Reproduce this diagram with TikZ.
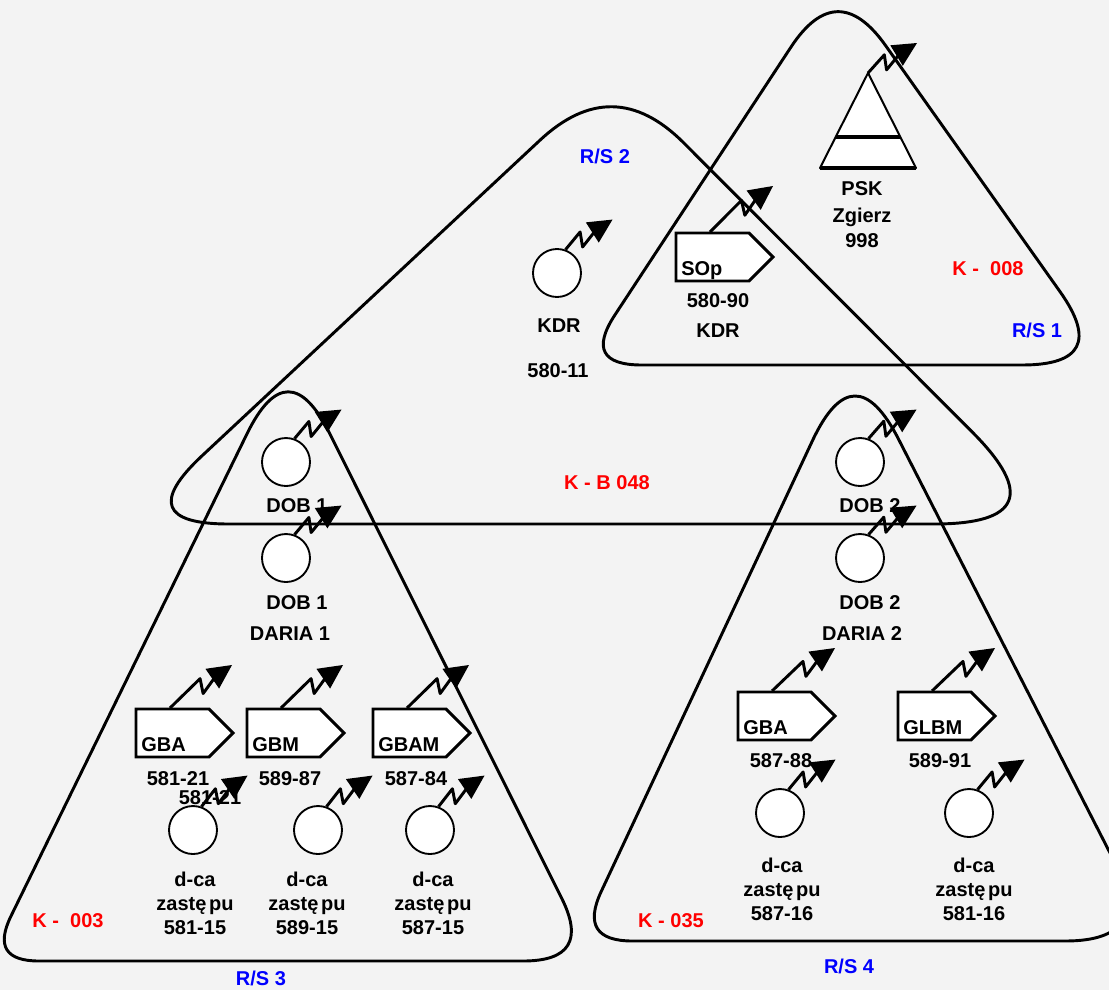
\documentclass[tikz,border=0pt]{standalone}
\usepackage{fontspec}
\setmainfont{Liberation Sans}
\usetikzlibrary{calc}
\definecolor{bg}{HTML}{F3F3F3}
\definecolor{rsblue}{HTML}{0000FF}
\definecolor{kred}{HTML}{FF0000}

% rounded triangle: #1 prefix, #2 apex, #3 left, #4 right, #5-#7 corner cut lengths
\newcommand{\roundtri}[7]{%
  \coordinate (#1a1) at ($(#2)!#5!(#3)$);
  \coordinate (#1a2) at ($(#2)!#5!(#4)$);
  \coordinate (#1b1) at ($(#3)!#6!(#2)$);
  \coordinate (#1b2) at ($(#3)!#6!(#4)$);
  \coordinate (#1c1) at ($(#4)!#7!(#3)$);
  \coordinate (#1c2) at ($(#4)!#7!(#2)$);
  \draw[outline] (#1a1) -- (#1b1)
    .. controls ($(#1b1)!0.667!(#3)$) and ($(#1b2)!0.667!(#3)$) .. (#1b2)
    -- (#1c1)
    .. controls ($(#1c1)!0.667!(#4)$) and ($(#1c2)!0.667!(#4)$) .. (#1c2)
    -- (#1a2)
    .. controls ($(#1a2)!0.667!(#2)$) and ($(#1a1)!0.667!(#2)$) .. (#1a1) -- cycle;
}

% radio symbol: #1 start coordinate, #2 offset of tip
\newcommand{\radio}[2]{%
  \coordinate (rtip) at ($(#1)+(#2)$);
  \draw[radioline] (#1) -- ($(rtip)!25.5pt!(#1)!5.25pt!-90:(#1)$)
    -- ($(rtip)!30pt!(#1)!5.25pt!90:(#1)$) -- ($(rtip)!15pt!(#1)$);
  \fill ($(rtip)!18pt!(#1)!9pt!90:(#1)$) -- (rtip)
    -- ($(rtip)!18pt!(#1)!9pt!-90:(#1)$) -- cycle;
}

% vehicle box: #1 name, #2 top-left, #3 text
\newcommand{\vehicle}[3]{%
  \coordinate (#1) at (#2);
  \draw[vehline] (#1) -- ++(73,0) -- ++(24,24) -- ++(-24,24) -- ++(-73,0) -- cycle;
  \node[vtext] (#1t) at ($(#1)+(5,42)$) {#3};
  \coordinate (#1r) at ($(#1)+(34,-1)$);
}

% d-ca label block: #1 name, #2 x, #3 first baseline, #4 number
\newcommand{\dcablock}[4]{%
  \node[lbl] (#1l1) at (#2,#3) {d-ca};
  \node[lbl] (#1l2) at (#2,#3+24) {zastę\kern2pt pu};
  \node[lbl] (#1l3) at (#2,#3+48) {#4};
}

\begin{document}
\begin{tikzpicture}[x=0.75pt,y=-0.75pt,
  outline/.style={line width=2.2pt, line join=round, line cap=round},
  dev/.style={circle, draw, fill=white, line width=1.4pt, minimum size=36pt, inner sep=0pt},
  vehline/.style={draw, fill=white, line width=2.2pt, line join=miter},
  radioline/.style={line width=2.2pt, line join=round},
  lbl/.style={font=\bfseries\fontsize{15}{18}\selectfont, inner sep=0pt, anchor=base},
  vtext/.style={font=\bfseries\fontsize{15}{18}\selectfont, inner sep=0pt, anchor=base west},
  klbl/.style={lbl, text=kred},
  rslbl/.style={lbl, text=rsblue}]

\useasboundingbox (0,0) rectangle (1109,990);
\fill[bg] (0,0) rectangle (1109,990);
\clip (0,0) rectangle (1109,990);

% group outlines
\roundtri{kb}{613,72}{129,524}{1064,524}{75pt}{75pt}{97.5pt}
\roundtri{ks}{837,-23}{582,365}{1112,365}{63pt}{45pt}{67.5pt}
\roundtri{kt}{288,350}{-11,961}{593,961}{70pt}{37.5pt}{52.5pt}
\roundtri{kf}{854,352}{578,941}{1155,941}{73.5pt}{41pt}{67.5pt}

% PSK symbol
\coordinate (pskL) at (820,168);
\coordinate (pskT) at (868,73);
\coordinate (pskR) at (916,168);
\draw[fill=white, line width=1.5pt, line join=round] (pskL) -- (pskT) -- (pskR) -- cycle;
\draw[line width=3pt] (pskL) -- (pskR);
\draw[line width=3pt] ($(pskL)!0.33!(pskT)$) -- ($(pskR)!0.33!(pskT)$);

% devices
\node[dev] (kdr) at (557,273) {};
\node[dev] (dob1a) at (286,462) {};
\node[dev] (dob1b) at (286,558) {};
\node[dev] (dca1) at (193,830) {};
\node[dev] (dca2) at (318,830) {};
\node[dev] (dca3) at (430,830) {};
\node[dev] (dob2a) at (860,462) {};
\node[dev] (dob2b) at (860,558) {};
\node[dev] (dca4) at (780,813) {};
\node[dev] (dca5) at (969,813) {};

% vehicles
\vehicle{sop}{676,233}{SOp}
\vehicle{gbaA}{136,709}{GBA}
\vehicle{gbmA}{247,709}{GBM}
\vehicle{gbamA}{373,709}{GBAM}
\vehicle{gbaB}{738,692}{GBA}
\vehicle{glbmB}{898,692}{GLBM}

% labels
\node[rslbl] (rs2) at (605,163) {R/S 2};
\node[lbl] (kdrl) at (559,332) {KDR};
\node[lbl] (kdrn) at (558,377) {580-11};
\node[lbl] (sopn) at (718,307) {580-90};
\node[lbl] (sopk) at (718,337) {KDR};
\node[lbl] (pskl) at (862,195) {PSK};
\node[lbl] (pskz) at (862,222) {Zgierz};
\node[lbl] (pskn) at (862,247) {998};
\node[klbl] (k008) at (988,275) {K -~~008};
\node[rslbl] (rs1) at (1037,337) {R/S 1};
\node[klbl] (kb048) at (607,489) {K - B 048};

\node[lbl] (dob1al) at (297,512) {DOB 1};
\node[lbl] (dob1bl) at (297,609) {DOB 1};
\node[lbl] (daria1) at (290,640) {DARIA 1};
\node[lbl] (gbaAn) at (178,785) {581-21};
\node[lbl] (gbaAn2) at (210,804) {581-21};
\node[lbl] (gbmAn) at (290,785) {589-87};
\node[lbl] (gbamAn) at (416,785) {587-84};
\dcablock{d1}{195}{886}{581-15}
\dcablock{d2}{307}{886}{589-15}
\dcablock{d3}{433}{886}{587-15}
\node[klbl] (k003) at (68,927) {K -~~003};
\node[rslbl] (rs3) at (261,985) {R/S 3};

\node[lbl] (dob2al) at (870,512) {DOB 2};
\node[lbl] (dob2bl) at (870,609) {DOB 2};
\node[lbl] (daria2) at (862,640) {DARIA 2};
\node[lbl] (gbaBn) at (781,767) {587-88};
\node[lbl] (glbmBn) at (940,767) {589-91};
\dcablock{d4}{782}{872}{587-16}
\dcablock{d5}{974}{872}{581-16}
\node[klbl] (k035) at (671,927) {K - 035};
\node[rslbl] (rs4) at (849,973) {R/S 4};

% radio symbols
\radio{pskT}{49,-30}
\radio{sopr}{63,-46}
\radio{kdr.70}{47,-30}
\radio{dob1a.70}{47,-29}
\radio{dob1b.70}{47,-29}
\radio{gbaAr}{62,-43}
\radio{gbmAr}{62,-43}
\radio{gbamAr}{62,-43}
\radio{dca1.70}{46,-31}
\radio{dca2.70}{46,-31}
\radio{dca3.70}{46,-31}
\radio{dob2a.70}{48,-29}
\radio{dob2b.70}{48,-29}
\radio{gbaBr}{63,-43}
\radio{glbmBr}{63,-43}
\radio{dca4.70}{47,-30}
\radio{dca5.70}{47,-30}
\end{tikzpicture}
\end{document}
